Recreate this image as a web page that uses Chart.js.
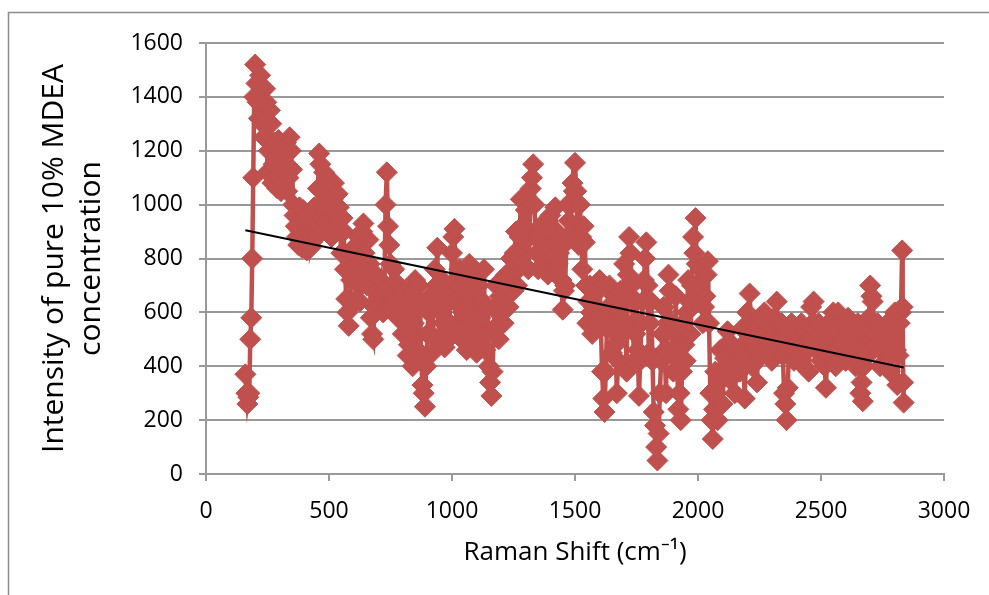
<!DOCTYPE html>
<html>
<head>
<meta charset="utf-8">
<script src="https://cdn.jsdelivr.net/npm/chart.js@4.4.1/dist/chart.umd.min.js"></script>
<style>
  html, body { margin: 0; padding: 0; background: #ffffff; }
  #wrap { width: 989px; height: 595px; position: relative; }
</style>
</head>
<body>
<div id="wrap"><canvas id="c" width="989" height="595"></canvas></div>
<script>
// ---- Data ----
const ramanShift = [
  160,164,168,172,176,180,184,188,192,196,
  200,205,210,215,220,225,230,235,240,245,
  250,255,260,265,270,275,280,285,290,295,
  300,305,310,315,320,325,330,335,340,345,
  350,355,360,365,370,375,380,385,390,395,
  400,405,410,415,420,425,430,435,440,445,
  450,455,460,465,470,475,480,485,490,495,
  500,505,510,515,520,525,530,535,540,545,
  550,555,560,565,570,575,580,585,590,595,
  600,605,610,615,620,625,630,635,640,645,
  650,655,660,665,670,675,680,685,690,695,
  700,705,710,715,720,725,730,735,740,745,
  750,755,760,765,770,775,780,785,790,795,
  800,805,810,815,820,825,830,835,840,845,
  850,855,860,865,870,875,880,885,890,895,
  900,905,910,915,920,925,930,935,940,945,
  950,955,960,965,970,975,980,985,990,995,
  1000,1005,1010,1015,1020,1025,1030,1035,1040,1045,
  1050,1055,1060,1065,1070,1075,1080,1085,1090,1095,
  1100,1105,1110,1115,1120,1125,1130,1135,1140,1145,
  1150,1155,1160,1165,1170,1175,1180,1185,1190,1195,
  1200,1205,1210,1215,1220,1225,1230,1235,1240,1245,
  1250,1255,1260,1265,1270,1275,1280,1285,1290,1295,
  1300,1305,1310,1315,1320,1325,1330,1335,1340,1345,
  1350,1355,1360,1365,1370,1375,1380,1385,1390,1395,
  1400,1405,1410,1415,1420,1425,1430,1435,1440,1445,
  1450,1455,1460,1465,1470,1475,1480,1485,1490,1495,
  1500,1505,1510,1515,1520,1525,1530,1535,1540,1545,
  1550,1555,1560,1565,1570,1575,1580,1585,1590,1595,
  1600,1605,1610,1615,1620,1625,1630,1635,1640,1645,
  1650,1655,1660,1665,1670,1675,1680,1685,1690,1695,
  1700,1705,1710,1715,1720,1725,1730,1735,1740,1745,
  1750,1755,1760,1765,1770,1775,1780,1785,1790,1795,
  1800,1805,1810,1815,1820,1825,1830,1835,1840,1845,
  1850,1855,1860,1865,1870,1875,1880,1885,1890,1895,
  1900,1905,1910,1915,1920,1925,1930,1935,1940,1945,
  1950,1955,1960,1965,1970,1975,1980,1985,1990,1995,
  2000,2005,2010,2015,2020,2025,2030,2035,2040,2045,
  2050,2055,2060,2065,2070,2075,2080,2085,2090,2095,
  2100,2105,2110,2115,2120,2125,2130,2135,2140,2145,
  2150,2155,2160,2165,2170,2175,2180,2185,2190,2195,
  2200,2205,2210,2215,2220,2225,2230,2235,2240,2245,
  2250,2255,2260,2265,2270,2275,2280,2285,2290,2295,
  2300,2305,2310,2315,2320,2325,2330,2335,2340,2345,
  2350,2355,2360,2365,2370,2375,2380,2385,2390,2395,
  2400,2405,2410,2415,2420,2425,2430,2435,2440,2445,
  2450,2455,2460,2465,2470,2475,2480,2485,2490,2495,
  2500,2505,2510,2515,2520,2525,2530,2535,2540,2545,
  2550,2555,2560,2565,2570,2575,2580,2585,2590,2595,
  2600,2605,2610,2615,2620,2625,2630,2635,2640,2645,
  2650,2655,2660,2665,2670,2675,2680,2685,2690,2695,
  2700,2705,2710,2715,2720,2725,2730,2735,2740,2745,
  2750,2755,2760,2765,2770,2775,2780,2785,2790,2795,
  2800,2805,2810,2815,2820,2825,2830,2832,2834,2836
];
const intensity = [
  370,300,260,285,300,500,580,800,1100,1400,
  1520,1450,1380,1320,1480,1420,1300,1250,1430,1380,
  1120,1200,1350,1300,1080,1150,1230,1100,1060,1240,
  1200,1050,1090,1150,1180,1230,1050,1100,1250,1200,
  1130,1000,960,920,880,850,990,900,840,980,
  950,860,830,940,970,840,860,950,990,920,
  880,1060,1190,1150,950,1000,1120,980,900,1100,
  1050,950,880,1020,1080,960,920,1040,990,900,
  820,950,900,760,650,600,550,650,720,800,
  840,720,640,780,880,640,700,900,930,820,
  760,700,870,780,580,520,500,620,740,680,
  620,700,720,650,600,680,1000,1120,920,850,
  780,700,620,760,700,640,580,700,660,600,
  520,680,640,560,440,480,620,680,400,560,
  720,600,460,700,640,420,330,300,250,400,
  520,600,660,520,450,620,760,700,840,640,
  500,600,720,560,470,700,640,500,560,700,
  820,880,910,640,520,700,760,620,500,600,
  720,560,460,640,780,560,500,660,740,560,
  450,620,700,580,480,640,760,460,520,620,
  400,340,290,380,540,620,700,600,500,660,
  720,620,560,680,740,700,620,720,800,740,
  680,820,900,700,760,880,1020,920,780,860,
  980,880,760,900,1060,1100,1150,1000,880,820,
  760,880,920,820,760,840,880,800,740,880,
  960,900,800,860,990,900,780,820,880,720,
  610,680,700,860,1000,940,880,1000,1080,1050,
  1155,1050,900,850,1000,880,760,920,860,700,
  560,640,700,600,520,620,680,560,600,680,
  720,560,380,280,230,380,540,620,700,580,
  450,560,660,480,300,420,620,680,520,640,
  780,560,380,740,880,820,700,560,420,520,
  640,460,290,420,560,640,720,800,860,700,
  450,560,640,420,230,180,100,50,150,300,
  420,520,620,460,300,560,740,680,560,460,
  380,520,660,420,240,300,200,380,560,480,
  420,600,720,640,520,700,880,820,950,780,
  640,700,760,660,560,620,660,740,790,560,
  300,200,130,240,380,300,200,340,460,360,
  260,380,430,480,530,440,350,420,480,400,
  300,380,460,420,380,460,540,400,280,440,
  600,500,670,560,400,480,560,460,340,500,
  580,520,440,520,600,520,460,500,560,480,
  420,500,580,520,640,560,460,500,560,440,
  300,260,200,320,480,520,560,480,420,480,
  540,500,440,500,560,480,400,460,520,460,
  380,500,620,560,640,540,460,500,560,480,
  420,480,520,400,320,440,560,500,440,520,
  600,500,400,500,600,520,460,500,560,480,
  420,500,580,520,460,500,540,460,400,480,
  560,420,300,340,270,400,520,480,440,580,
  700,660,640,560,480,520,560,480,400,460,
  520,500,460,500,560,460,380,440,480,540,
  600,460,330,440,560,600,830,620,340,265
];
// Linear trendline end points
const trendX = [160, 2836];
const trendY = [905, 395];
const xTicks = [0, 500, 1000, 1500, 2000, 2500, 3000];
const yTicks = [0, 200, 400, 600, 800, 1000, 1200, 1400, 1600];

const seriesPoints = ramanShift.map((x, i) => ({ x: x, y: intensity[i] }));
const trendPoints = trendX.map((x, i) => ({ x: x, y: trendY[i] }));

const gridGray = '#999999';
const red = '#C0504D';

const outerBorder = {
  id: 'outerBorder',
  beforeDraw(chart) {
    const ctx = chart.ctx;
    ctx.save();
    ctx.fillStyle = '#ffffff';
    ctx.fillRect(0, 0, chart.width, chart.height);
    ctx.strokeStyle = '#8C8C8C';
    ctx.lineWidth = 1.5;
    ctx.strokeRect(8.5, 12.5, 1200, 800);
    ctx.restore();
  }
};

new Chart(document.getElementById('c'), {
  type: 'line',
  data: {
    datasets: [
      {
        label: 'Linear trend',
        data: trendPoints,
        borderColor: '#000000',
        borderWidth: 2,
        pointRadius: 0,
        fill: false,
        order: 0
      },
      {
        label: 'Intensity',
        data: seriesPoints,
        borderColor: red,
        backgroundColor: red,
        borderWidth: 4.5,
        pointStyle: 'rectRot',
        pointRadius: 10.5,
        pointBorderWidth: 1,
        pointBackgroundColor: red,
        pointBorderColor: red,
        tension: 0,
        fill: false,
        order: 1
      }
    ]
  },
  options: {
    responsive: false,
    animation: false,
    events: [],
    layout: { padding: { left: 0, top: 43, right: 45, bottom: 0 } },
    plugins: {
      legend: { display: false },
      tooltip: { enabled: false }
    },
    scales: {
      x: {
        type: 'linear',
        min: 0,
        max: 3000,
        afterBuildTicks: (scale) => { scale.ticks = xTicks.map(v => ({ value: v })); },
        afterFit: (scale) => { scale.height = 121; },
        ticks: {
          color: '#000000',
          font: { family: 'Open Sans', size: 23 },
          padding: 17,
          maxRotation: 0,
          callback: (v) => String(v)
        },
        grid: {
          drawOnChartArea: false,
          color: gridGray,
          lineWidth: 2,
          tickLength: 7
        },
        border: { color: gridGray, width: 2 },
        title: {
          display: true,
          text: 'Raman Shift (cm⁻¹)',
          color: '#000000',
          font: { family: 'Open Sans', size: 26 },
          padding: { top: 0, bottom: 27 }
        }
      },
      y: {
        type: 'linear',
        min: 0,
        max: 1600,
        afterBuildTicks: (scale) => { scale.ticks = yTicks.map(v => ({ value: v })); },
        afterFit: (scale) => { scale.width = 206; },
        ticks: {
          color: '#000000',
          font: { family: 'Open Sans', size: 23 },
          padding: 16,
          callback: (v) => String(v)
        },
        grid: {
          color: gridGray,
          lineWidth: 2,
          tickLength: 7
        },
        border: { color: gridGray, width: 2 },
        title: {
          display: true,
          text: ['Intensity of pure 10% MDEA', 'concentration'],
          color: '#000000',
          font: { family: 'Open Sans', size: 30, lineHeight: 1.23 },
          padding: { top: 36, bottom: 0 }
        }
      }
    }
  },
  plugins: [outerBorder]
});
</script>
</body>
</html>
